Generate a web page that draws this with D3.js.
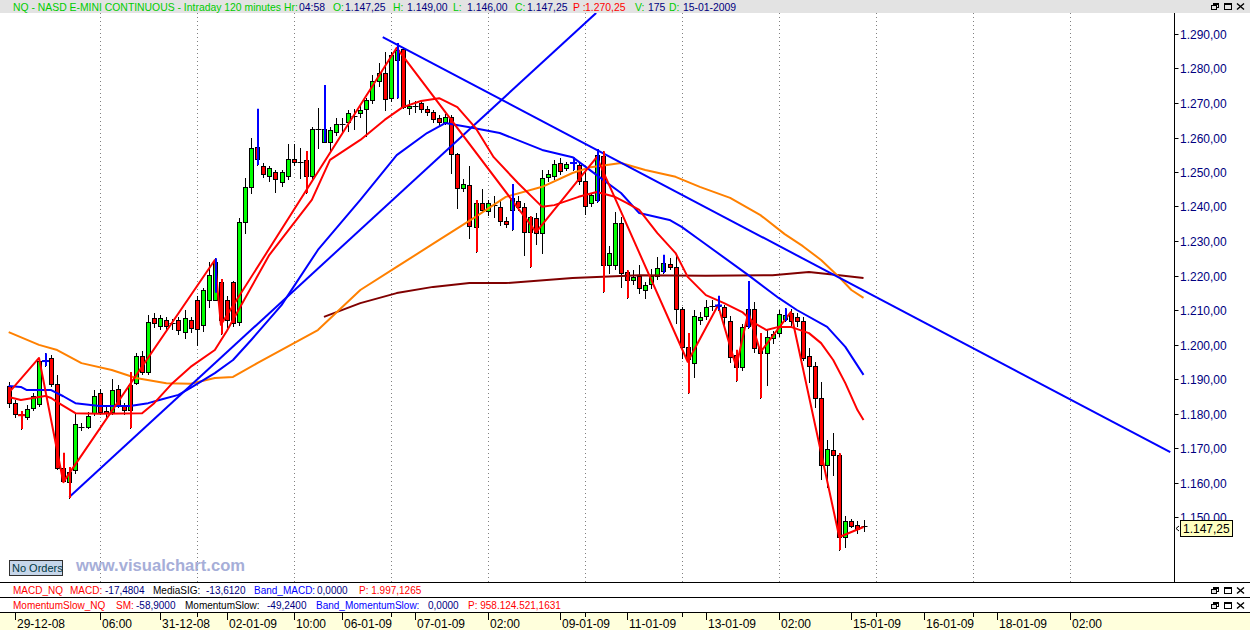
<!DOCTYPE html>
<html><head><meta charset="utf-8">
<script src="https://cdn.jsdelivr.net/npm/d3@7"></script>
<style>
html,body{margin:0;padding:0;background:#fff;}
svg{display:block;font-family:"Liberation Sans",Arial,sans-serif;}
</style>
</head><body>
<svg id="c" width="1250" height="630"></svg>
<script>
// ---------- DATA ----------
// OHLC per 120-minute bar (index 0..141)
const ohlc = [
[1188,1189,1182,1183],[1183,1184,1179,1180],[1179.8,1180.7,1175.5,1179.5],[1179,1182.5,1178.5,1181.3],
[1181.6,1186,1181,1185.1],[1182.8,1196.1,1182.2,1195.2],[1195.4,1197.5,1193.8,1195.2],[1196,1197,1188,1188.6],
[1188.6,1191.2,1164,1164.2],[1164.2,1168.6,1160.1,1160.3],[1160.1,1164.5,1155.5,1163],[1163.6,1180.1,1162.8,1177],
[1176.1,1177.2,1175.2,1176.1],[1176.1,1180.4,1175.8,1179.3],[1180.1,1186.8,1179.5,1185.1],[1186,1187.1,1179.8,1180.4],
[1180.7,1181.9,1178.4,1180.1],[1180.4,1190,1180,1186.8],[1187.1,1188.3,1181.9,1182.2],[1182.5,1183,1180,1181],
[1181,1192,1175.8,1188.3],[1188.9,1197.5,1188.5,1196.7],[1196.7,1198,1191.5,1192],[1192,1208.5,1191.5,1206.5],
[1207.7,1209,1205,1206.2],[1205.3,1208.5,1204.5,1207.7],[1207.1,1208,1204.5,1205.3],[1206.2,1207.5,1204.5,1206.2],
[1207.1,1208,1203,1204.2],[1203.6,1210,1202,1207.7],[1207.1,1208,1203.5,1204.7],[1212.9,1214,1200,1204.5],
[1205.6,1216.5,1204,1215.8],[1212.9,1223.9,1211,1220.1],[1212.9,1225,1215,1223.9],[1218.1,1219,1203,1207.1],
[1212.9,1214,1205,1207.1],[1218.1,1218.5,1205.5,1206.2],[1206.5,1236.7,1205.7,1235.5],[1235.5,1248.3,1232.3,1245.6],
[1245.6,1259.9,1243.9,1257],[1257.2,1268.3,1252,1253.8],[1251.7,1252.6,1248.5,1249.4],[1248.8,1251.8,1247.5,1251.2],
[1250,1250.6,1244.2,1248],[1247.1,1250.6,1246,1250],[1248.8,1258.1,1248,1253.8],[1253.8,1258,1252,1252.9],
[1252.9,1257,1248.3,1252.9],[1253.5,1256.1,1243.9,1248.8],[1248.8,1263,1248,1262.5],[1262.5,1268.6,1257,1262.5],
[1258.7,1275.2,1258.7,1262.5],[1258.7,1263,1256,1262.2],[1261.6,1265.7,1260.7,1263.9],[1263.9,1265.7,1262,1263.9],
[1264.5,1268,1262,1267.1],[1266.2,1268.3,1262.5,1266.2],[1267.1,1269,1266,1268],[1268.3,1271.5,1260.5,1270.9],
[1270.9,1278.1,1270,1276.4],[1276.4,1281.6,1275,1278.7],[1278.7,1284.8,1268,1271.2],[1271.4,1284.8,1270.5,1283.9],
[1282.5,1287.4,1271.4,1285.4],[1285.7,1286.2,1268.5,1268.8],[1268.6,1270.9,1266.8,1269.1],[1269.1,1270.5,1267.5,1269.1],
[1270,1271,1267.5,1268.3],[1268.3,1269,1266.5,1267.4],[1267.4,1268,1264.5,1265.4],[1265.7,1266.5,1263.5,1264.5],
[1264.5,1266.8,1263.8,1266],[1266,1266.5,1249.7,1255.2],[1255.2,1255.5,1239.6,1245.4],[1245.4,1248,1244.5,1246.5],
[1246.2,1251.7,1230.9,1234.4],[1234.1,1241.9,1226.8,1241],[1241,1245,1238.5,1239],[1238.7,1242,1237.5,1241],
[1240.5,1243,1237,1240],[1239.9,1241.5,1234.5,1235.8],[1235.8,1237,1234,1234.9],[1239,1246.5,1233.2,1242.5],
[1241.6,1243,1239,1239.9],[1239.9,1241,1226,1232.6],[1232.6,1237.2,1222.5,1237],[1236.7,1238,1229,1232.3],
[1232.3,1250.6,1226.5,1248.3],[1248.5,1250.6,1247.5,1249.4],[1248.8,1253.5,1248,1252.3],[1252.6,1254,1249.5,1250.3],
[1251.2,1253,1250.5,1252.3],[1252.6,1254.3,1250.6,1252.6],[1252,1253,1246.5,1247.4],[1247.4,1250,1237.8,1240.1],
[1241,1244,1240,1243.3],[1241.9,1256.7,1241.3,1254.9],[1254.6,1256,1215.2,1223],[1223,1228.6,1220.7,1226.5],
[1223,1238.4,1222,1235.2],[1235.2,1237,1216.7,1220.7],[1221,1221.5,1213.5,1218.7],[1218.7,1221.5,1217.5,1219.6],
[1219.9,1223,1215,1216.4],[1215.8,1218,1213.6,1217.2],[1217.5,1222,1216.5,1219.9],[1219.9,1225.4,1219,1222.2],
[1221.3,1226,1220.7,1223.6],[1223.3,1225,1222,1222.5],[1222.5,1225.7,1206.2,1210.3],[1210.3,1211,1196.1,1199.3],
[1199.3,1203.3,1185.9,1195.8],[1194.6,1210,1190.6,1208.3],[1207.1,1209.5,1206,1208],[1208.3,1212.9,1207.5,1210.9],
[1210.9,1213,1210,1211.3],[1210.9,1214.1,1210,1211.3],[1210.9,1211.5,1205,1208],[1206.8,1208.3,1195,1196.4],
[1197,1198.5,1189.4,1193.5],[1193.5,1206,1192.5,1205.1],[1210.3,1218.4,1204.8,1205.4],[1210.3,1212.3,1197.8,1199],
[1199,1203.3,1184.5,1197.5],[1197.5,1204.2,1188.3,1202.2],[1201.9,1204,1200.5,1203],[1203.3,1210,1202.5,1208.8],
[1207.4,1210.5,1206.8,1208.5],[1209.1,1210.3,1205.5,1206.8],[1207.9,1209,1205.5,1206.8],[1206.8,1208,1195.5,1196.1],
[1196.7,1199,1189.1,1193.8],[1193.8,1195,1181.9,1184.5],[1184.5,1189.1,1161,1165.1],[1165.1,1172.3,1158.7,1169.7],
[1169.4,1174.3,1162.2,1168],[1168,1168.5,1140.4,1144.2],[1144.2,1150.3,1141.3,1148.8],[1148.8,1149.5,1147,1147.4],
[1147.6,1148.8,1145.3,1146.5],[1147.25,1149,1146,1147.25]
];
// bars whose range is highlighted
const redBars  = [2,9,10,20,35,49,77,86,98,102,112,120,124,137];
const blueBars = [6,34,41,52,64,83,93,97,108,117,122,128];

// moving averages: [bar index, price]
const maRed = [[0,1184.8],[2,1183.9],[6,1185.1],[7,1184.5],[8,1183.3],[11,1180.1],[15,1179.9],[22,1180.1],[24,1183],[27,1188.8],[30,1193.5],[34,1198.4],[36,1204],[43,1226],[50,1241.9],[53,1253.5],[58,1259.3],[62,1265.1],[65,1268.8],[68,1270.6],[71,1271.4],[74,1268.8],[77,1262.8],[80,1254.3],[84,1246.8],[88,1239.9],[90,1240.4],[94,1242.8],[97,1244.2],[100,1242.8],[102,1241],[104,1239],[107,1232.3],[110,1226.5],[112,1219.6],[115,1214.3],[118,1212],[121,1209.4],[123,1206.2],[125,1204.2],[127,1205.1],[129,1205.1],[132,1203.3],[134,1200.4],[136,1195.5],[138,1188.8],[140,1181],[141,1178.1]];
const maBlue = [[0,1188],[2,1187.7],[3,1186.8],[7,1186.8],[9,1185],[11,1183],[15,1182.2],[20,1182.2],[23,1183],[25,1184],[28,1185.4],[30,1187.4],[34,1191.7],[37,1195.5],[40,1201.3],[45,1211.4],[51,1227.4],[58,1241.9],[64,1254.9],[69,1261.3],[72,1264.2],[76,1263],[81,1261.3],[88,1256.4],[93,1254.3],[97,1249.1],[101,1243.9],[104,1238.1],[109,1236.1],[111,1234.1],[114,1230.3],[122,1220.1],[127,1213.5],[130,1210],[135,1205.1],[138,1199.3],[141,1191.2]];
const maOrange = [[0,1203.6],[5,1199.9],[8,1198.4],[12,1194.6],[17,1192.6],[21,1190.3],[26,1188.8],[30,1188.6],[34,1190.3],[37,1190.6],[41,1194.6],[51,1204.2],[58,1215.8],[64,1222.5],[71,1230.3],[77,1237],[82,1242.8],[88,1245.7],[93,1249.7],[96,1251.4],[101,1252.6],[105,1250.6],[110,1248.6],[114,1245.7],[119,1242.5],[124,1237.5],[128,1232],[131,1228.5],[134,1224.5],[137,1219.5],[139,1215.8],[141,1213.5]];
const maMaroon = [[52,1208],[58,1212],[64,1214.9],[70,1216.7],[76,1217.8],[82,1217.8],[93,1219.3],[97,1219.6],[104,1220.1],[115,1219.9],[126,1220.1],[132,1221],[137,1220.1],[141,1219.3]];
// zigzag through swing points
const zigzag = [[0,1186],[5,1196.1],[9,1160.1],[34,1224.5],[35,1205.7],[64,1286],[87,1232.6],[97,1254.3],[112,1195],[117,1211.4],[120,1193.5],[122,1209.4],[124,1197.8],[129,1209.4],[137,1144.2],[141,1147.1]];
// trend lines (two anchor points each)
const trendUp   = [[10,1155.8],[96.9,1296.1]];
const trendDown = [[61.7,1289.1],[191.6,1168.8]];

// axis
const yTicks = [1160,1170,1180,1190,1200,1210,1220,1230,1240,1250,1260,1270,1280,1290];
const yLabelExtra = 1150;
const xTickIdx   = [1,15,25,36,47,55,67,79,91,102,115,127,139,151,163,175];
const xTickLabel = ["29-12-08","06:00","31-12-08","02-01-09","10:00","06-01-09","07-01-09","02:00","09-01-09","11-01-09","13-01-09","02:00","15-01-09","16-01-09","18-01-09","02:00"];
const gridIdx = [15,31,47,63,79,95,111,127,143,159,175];
const lastPrice = 1147.25;

// ---------- RENDER ----------
const svg = d3.select('#c');
const TOP = 13, BOT = 582, AX = 1174.5;
const x = d3.scaleLinear().domain([0,16]).range([8.7, 105.7]);
const y = d3.scaleLinear().domain([1150,1290]).range([517,34]);
const fmt = v => { const s = v.toFixed(2).replace('.',','); const [a,b]=s.split(','); return a.replace(/\B(?=(\d{3})+(?!\d))/g,'.')+','+b; };

svg.append('rect').attr('width',1250).attr('height',630).attr('fill','#fff');
svg.append('defs').append('clipPath').attr('id','clip').append('rect')
  .attr('x',0).attr('y',TOP).attr('width',AX).attr('height',BOT-TOP);

// header
svg.append('rect').attr('x',0).attr('y',0).attr('width',1250).attr('height',TOP).attr('fill','#e3e3e3');
const G='#00cc00', N='#000080', R='#ff0000';
const head = [["NQ - NASD E-MINI CONTINUOUS - Intraday 120 minutes",G,13],["Hr:",G,284],["04:58",N,299],["O:",G,333],["1.147,25",N,345],["H:",G,393],["1.149,00",N,407],["L:",G,453],["1.146,00",N,467],["C:",G,515],["1.147,25",N,527],["P :",R,573],["1.270,25",R,585],["V:",G,635],["175",N,648],["D:",G,669],["15-01-2009",N,683]];
svg.append('g').selectAll('text').data(head).join('text')
  .attr('x',d=>d[2]).attr('y',10.5).attr('fill',d=>d[1]).attr('font-size','10.4px').text(d=>d[0]);

function winIcons(yy){
  const g = svg.append('g').attr('stroke','#000').attr('fill','none').attr('stroke-width',1);
  g.append('rect').attr('x',1213.5).attr('y',yy+0.5).attr('width',5).attr('height',4);
  g.append('rect').attr('x',1211.5).attr('y',yy+2.5).attr('width',5).attr('height',4).attr('fill','#e3e3e3');
  g.append('line').attr('x1',1213).attr('x2',1219).attr('y1',yy+1.5).attr('y2',yy+1.5);
  g.append('rect').attr('x',1224.5).attr('y',yy+0.5).attr('width',7).attr('height',6);
  g.append('line').attr('x1',1224).attr('x2',1232).attr('y1',yy+1.5).attr('y2',yy+1.5);
  g.append('path').attr('d',`M1237,${yy+0.5}L1244,${yy+6.5}M1244,${yy+0.5}L1237,${yy+6.5}`).attr('stroke-width',1.4);
}
winIcons(3);

// gridlines
svg.append('g').selectAll('line').data(gridIdx).join('line')
  .attr('x1',d=>Math.round(x(d))+0.5).attr('x2',d=>Math.round(x(d))+0.5)
  .attr('y1',TOP).attr('y2',BOT).attr('stroke','#808080').attr('stroke-dasharray','1,3');

const plot = svg.append('g').attr('clip-path','url(#clip)');

// candles
const cg = plot.append('g');
ohlc.forEach((d,i)=>{
  const [o,h,l,c] = d;
  const px = Math.round(x(i));
  cg.append('line').attr('x1',px+0.5).attr('x2',px+0.5)
    .attr('y1',Math.round(y(h))).attr('y2',Math.round(y(l))+1).attr('stroke','#000');
  const t = Math.round(y(Math.max(o,c))), b = Math.round(y(Math.min(o,c)));
  if (b - t < 2) {
    cg.append('line').attr('x1',px-2.5).attr('x2',px+3.5).attr('y1',t+0.5).attr('y2',t+0.5).attr('stroke','#000');
  } else {
    cg.append('rect').attr('x',px-1.5).attr('y',t+0.5).attr('width',4).attr('height',b-t)
      .attr('fill', c>=o ? '#00ff00' : '#ff0000').attr('stroke','#000');
  }
});

const line = d3.line().x(d=>x(d[0])).y(d=>y(d[1]));
const drawLine = (data,color,w) => plot.append('path').datum(data).attr('d',line)
  .attr('fill','none').attr('stroke',color).attr('stroke-width',w).attr('stroke-linejoin','round');

drawLine(maMaroon,'#800000',2);
drawLine(maOrange,'#ff8000',2);
drawLine(maBlue,'#0000ff',2);
drawLine(trendUp,'#0000ff',2);
drawLine(trendDown,'#0000ff',2);
drawLine(maRed,'#ff0000',2);
drawLine(zigzag,'#ff0000',2);

// highlighted bar ranges
const spike = (idx,color)=>{
  idx.forEach(i=>{
    const [o,h,l,c] = ohlc[i];
    const px = Math.round(x(i));
    plot.append('line').attr('x1',px+1).attr('x2',px+1).attr('y1',y(h)).attr('y2',y(l))
      .attr('stroke',color).attr('stroke-width',2);
    if (Math.abs(y(o)-y(c))<2) plot.append('line').attr('x1',px-3).attr('x2',px+4)
      .attr('y1',y(c)).attr('y2',y(c)).attr('stroke',color).attr('stroke-width',2);
  });
};
spike(redBars,'#ff0000');
spike(blueBars,'#0000ff');

// right axis
svg.append('line').attr('x1',AX).attr('x2',AX).attr('y1',TOP).attr('y2',BOT).attr('stroke','#000');
const yl = svg.append('g');
[yLabelExtra, ...yTicks].forEach(v=>{
  const yy = Math.round(y(v))+0.5;
  yl.append('line').attr('x1',AX).attr('x2',AX+4).attr('y1',yy).attr('y2',yy).attr('stroke','#000');
  yl.append('text').attr('x',1180).attr('y',yy+4.5).attr('font-size','12px').attr('fill','#000080').text(fmt(v));
});
// last price box
const ly = Math.round(y(lastPrice))+2;
svg.append('rect').attr('x',1180.5).attr('y',ly-7.5).attr('width',52).attr('height',16).attr('fill','#ffffc0').attr('stroke','#000');
svg.append('text').attr('x',1183).attr('y',ly+5).attr('font-size','12px').attr('fill','#000').text(fmt(lastPrice));
svg.append('path').attr('d',`M1179,${ly-2}L1176,${ly+0.5}L1179,${ly+3}`).attr('fill','none').attr('stroke','#000');

// No Orders + watermark
svg.append('rect').attr('x',9.5).attr('y',560.5).attr('width',53).attr('height',15).attr('fill','#c6d6ea').attr('stroke','#303030');
svg.append('text').attr('x',12).attr('y',572).attr('font-size','11px').attr('fill','#003844').text('No Orders');
svg.append('text').attr('x',76).attr('y',571).attr('font-size','16.6px').attr('font-weight','bold').attr('fill','#a6aed8').text('www.visualchart.com');

// indicator rows
svg.append('line').attr('x1',0).attr('x2',1250).attr('y1',582.5).attr('y2',582.5).attr('stroke','#000');
svg.append('line').attr('x1',0).attr('x2',1250).attr('y1',597.5).attr('y2',597.5).attr('stroke','#000');
const K='#000000', B='#0000ff';
const row1 = [["MACD_NQ",R,13],["MACD:",R,70],["-17,4804",N,105],["MediaSIG:",K,153],["-13,6120",N,206],["Band_MACD:",B,254],["0,0000",N,317],["P: 1.997,1265",R,359]];
const row2 = [["MomentumSlow_NQ",R,13],["SM:",R,116],["-58,9000",N,136],["MomentumSlow:",K,185],["-49,2400",N,267],["Band_MomentumSlow:",B,316],["0,0000",N,428],["P: 958.124.521,1631",R,468]];
svg.append('g').selectAll('text').data(row1).join('text').attr('x',d=>d[2]).attr('y',593.5).attr('fill',d=>d[1]).attr('font-size','10px').text(d=>d[0]);
svg.append('g').selectAll('text').data(row2).join('text').attr('x',d=>d[2]).attr('y',608.5).attr('fill',d=>d[1]).attr('font-size','10px').text(d=>d[0]);
winIcons(587);
winIcons(602);

// x axis band
svg.append('rect').attr('x',0).attr('y',612).attr('width',1250).attr('height',18).attr('fill','#ffffdc');
svg.append('line').attr('x1',0).attr('x2',1250).attr('y1',612.5).attr('y2',612.5).attr('stroke','#000');
const xa = svg.append('g');
gridIdx.forEach(i=>{
  const px = Math.round(x(i))+0.5;
  xa.append('line').attr('x1',px).attr('x2',px).attr('y1',613).attr('y2',617).attr('stroke','#000');
});
xTickIdx.forEach((i,k)=>{
  const px = Math.round(x(i))+0.5;
  xa.append('line').attr('x1',px).attr('x2',px).attr('y1',613).attr('y2',620).attr('stroke','#000');
  xa.append('text').attr('x',px+1.5).attr('y',628).attr('font-size','12px').attr('fill','#000').text(xTickLabel[k]);
});
</script>
</body></html>
